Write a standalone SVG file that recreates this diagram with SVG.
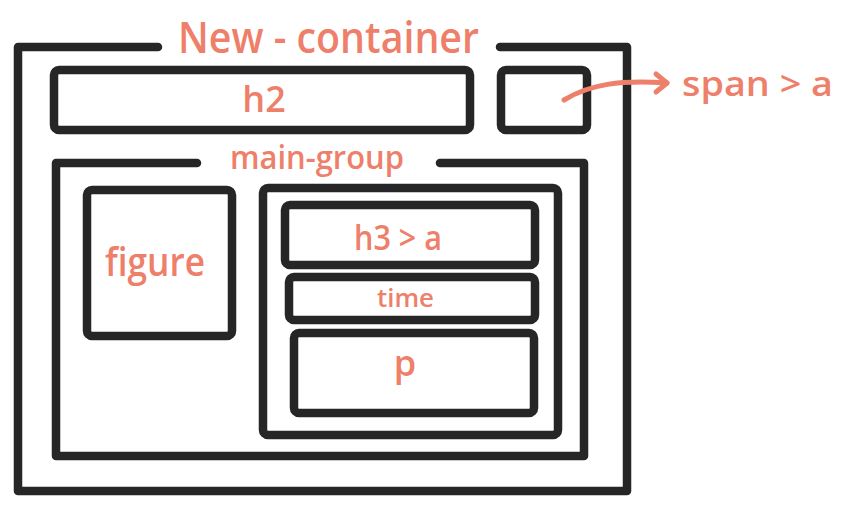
<svg xmlns="http://www.w3.org/2000/svg" width="844" height="511" viewBox="0 0 844 511">
  <style>
    .box { fill: none; stroke: #262626; stroke-width: 8.5; stroke-linejoin: round; stroke-linecap: round; }
    .lbl { fill: #EE7F6A; font-family: "Open Sans", "Liberation Sans", sans-serif; font-weight: 600; }
    .arrow { fill: none; stroke: #EE7F6A; stroke-width: 5; stroke-linecap: round; stroke-linejoin: round; }
  </style>
  <rect width="844" height="511" fill="#ffffff"/>

  <!-- outer container, open at the top for its title -->
  <g id="new-container">
    <path class="box" d="M158,47 H18 V491 H627 V47 H500"/>
    <text class="lbl" x="178" y="53" font-size="44" textLength="301" lengthAdjust="spacingAndGlyphs">New - container</text>
  </g>

  <g id="h2">
    <rect class="box" x="54" y="70" width="416" height="60" rx="5"/>
    <text class="lbl" x="264" y="112" font-size="36" text-anchor="middle">h2</text>
  </g>

  <g id="span-a">
    <rect class="box" x="501" y="70" width="86" height="60" rx="5"/>
    <text class="lbl" x="682" y="96" font-size="34" textLength="151" lengthAdjust="spacingAndGlyphs">span &gt; a</text>
  </g>

  <!-- main group, open at the top for its title -->
  <g id="main-group">
    <path class="box" d="M197,163 H56 V456 H584 V163 H440"/>
    <text class="lbl" x="230" y="169" font-size="32" textLength="174" lengthAdjust="spacingAndGlyphs">main-group</text>
  </g>

  <g id="figure">
    <rect class="box" x="87" y="190" width="145" height="146" rx="5"/>
    <text class="lbl" x="105" y="276" font-size="40" textLength="100" lengthAdjust="spacingAndGlyphs">figure</text>
  </g>

  <g id="article">
    <rect class="box" x="263" y="188" width="295" height="247" rx="5"/>
  </g>

  <g id="h3-a">
    <rect class="box" x="285" y="205" width="250" height="60" rx="5"/>
    <text class="lbl" x="354" y="250" font-size="34" textLength="88" lengthAdjust="spacingAndGlyphs">h3 &gt; a</text>
  </g>

  <g id="time">
    <rect class="box" x="289" y="277" width="246" height="43" rx="5"/>
    <text class="lbl" x="377" y="307" font-size="25" textLength="57" lengthAdjust="spacingAndGlyphs">time</text>
  </g>

  <g id="p">
    <rect class="box" x="294" y="333" width="240" height="80" rx="5"/>
    <text class="lbl" x="405" y="376" font-size="36" text-anchor="middle">p</text>
  </g>

  <g id="connectors">
    <path class="arrow" d="M564,100 C590,84 620,80 667,83"/>
    <path class="arrow" d="M656,74 L667,83 L656,92"/>
  </g>
</svg>
